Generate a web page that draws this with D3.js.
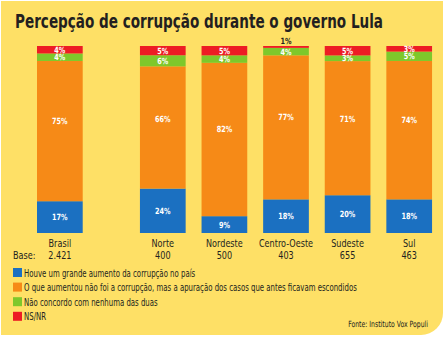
<!DOCTYPE html>
<html><head><meta charset="utf-8">
<script src="https://cdn.jsdelivr.net/npm/d3@7"></script>
<style>
body{margin:0;background:#fff;}
svg{display:block;}
text{font-family:"Liberation Sans Narrow","DejaVu Sans Condensed","Arial Narrow",sans-serif;}
</style></head>
<body>
<svg id="c" width="443" height="339"></svg>
<script>
const categories = ["Brasil","Norte","Nordeste","Centro-Oeste","Sudeste","Sul"];
const bases = ["2.421","400","500","403","655","463"];
const seriesNames = [
  "Houve um grande aumento da corrupção no país",
  "O que aumentou não foi a corrupção, mas a apuração dos casos que antes ficavam escondidos",
  "Não concordo com nenhuma das duas",
  "NS/NR"
];
const aumento   = [17,24,9,18,20,18];
const apuracao  = [75,66,82,77,71,74];
const nenhuma   = [4,6,4,4,3,5];
const nsnr      = [4,5,5,1,5,3];
const colors = ["#1b70c1","#f68a17","#7ec82b","#ed1c24"];
const ink = "#231f20";

const svg = d3.select("#c");

// squeezed text helper (horizontal condensing)
function sText(parent, x, y, str, size, sx, anchor, opts={}) {
  const t = parent.append("text")
    .attr("transform",`translate(${x},${y}) scale(${sx},1)`)
    .attr("font-size",size).attr("fill",opts.fill||ink)
    .attr("text-anchor",anchor||"start").text(str);
  if (opts.bold) t.attr("font-weight","bold");
  return t;
}

// panel
const p = d3.path();
const r = 22, x0 = 1, y0 = 1, x1 = 443, y1 = 335;
p.moveTo(x0,y0); p.lineTo(x1,y0); p.lineTo(x1,y1-r);
p.arcTo(x1,y1,x1-r,y1,r); p.lineTo(x0,y1); p.closePath();
svg.append("path").attr("d",p.toString()).attr("fill","#fee066");

svg.append("text").attr("x",15).attr("y",28)
  .attr("font-size",20).attr("font-weight","bold").attr("fill",ink)
  .attr("textLength",368).attr("lengthAdjust","spacingAndGlyphs")
  .text("Percepção de corrupção durante o governo Lula");

const keys = ["a","b","c","d"];
const rows = categories.map((c,i)=>({cat:c, a:aumento[i], b:apuracao[i], c:nenhuma[i], d:nsnr[i]}));
const stack = d3.stack().keys(keys).offset(d3.stackOffsetExpand);
const series = stack(rows);

const xr = d3.scaleBand().domain(categories.slice(1)).range([132,440]).paddingInner(0.258).paddingOuter(0.129);
const bw = xr.bandwidth();
const xPos = c => c === "Brasil" ? 37 : xr(c);
const y = d3.scaleLinear().domain([0,1]).range([233,46]);

const g = svg.append("g");
series.forEach((s,si)=>{
  g.selectAll(null).data(s).enter().append("rect")
    .attr("x",d=>xPos(d.data.cat)).attr("width",bw)
    .attr("y",d=>y(d[1])).attr("height",d=>y(d[0])-y(d[1]))
    .attr("fill",colors[si]);
});
// labels
series.forEach((s,si)=>{
  s.forEach(d=>{
    const v = d.data[keys[si]];
    const top = y(d[1]), bot = y(d[0]), h = bot-top;
    let ty, fill = "#fff";
    if (h < 5) { ty = top - 2; fill = ink; }
    else if (si===1) ty = top + h*0.43 + 3;
    else ty = top + h/2 + 3;
    sText(g, xPos(d.data.cat)+bw/2, ty, v+"%", 8.5, 0.85, "middle", {fill, bold:true});
  });
});

// axis labels
categories.forEach((c,i)=>{
  const cx = xPos(c)+bw/2;
  sText(svg, cx, 247, c, 11, 0.82, "middle");
  sText(svg, cx, 259, bases[i], 11, 0.82, "middle");
});
sText(svg, 13, 259, "Base:", 11, 0.82, "start");

// legend
const legendTexts = [];
seriesNames.forEach((n,i)=>{
  const ly = 268 + i*14.6;
  svg.append("rect").attr("x",13).attr("y",ly).attr("width",9).attr("height",9).attr("fill",colors[i]);
  legendTexts.push(sText(svg, 24, ly+8.5, n, 10.5, 1, "start"));
});
const longW = legendTexts[1].node().getComputedTextLength();
const lf = 333 / longW;
legendTexts.forEach((t,i)=>t.attr("transform",`translate(24,${268+i*14.6+8.5}) scale(${lf},1)`));

const f = sText(svg, 428, 327, "Fonte: Instituto Vox Populi", 8.5, 1, "end");
const fw = f.node().getComputedTextLength();
f.attr("transform",`translate(428,327) scale(${80/fw},1)`);
</script>
</body></html>
